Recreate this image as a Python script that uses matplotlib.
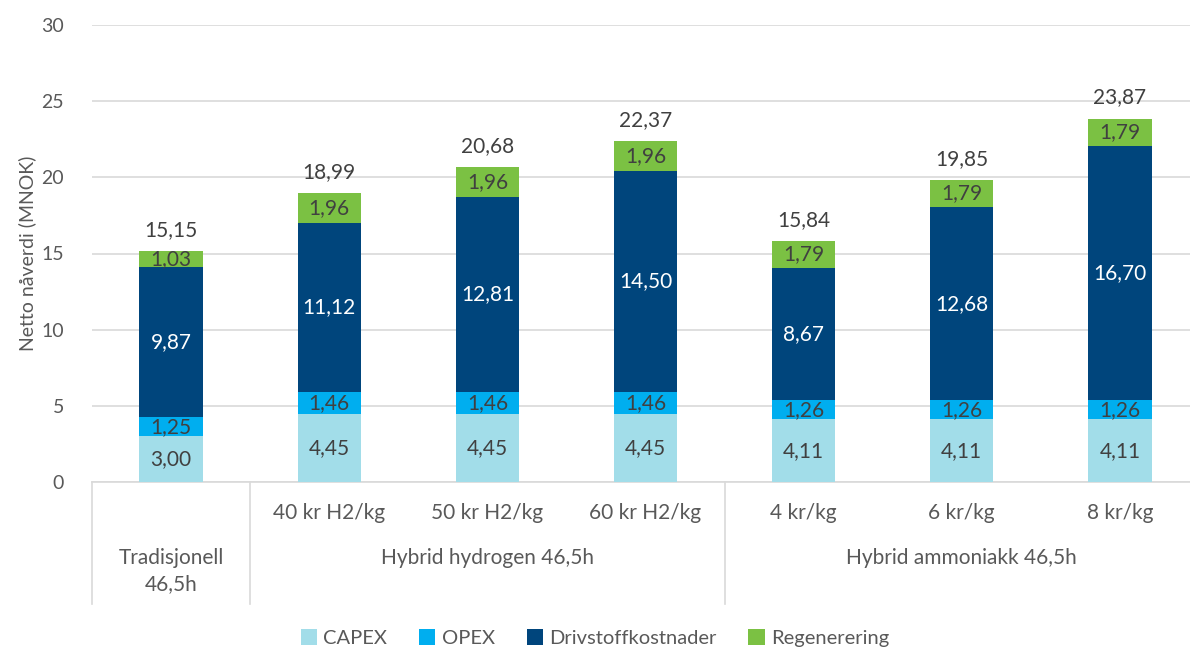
import matplotlib.pyplot as plt
import matplotlib.transforms as mtransforms
import numpy as np

plt.rcParams['font.family'] = ['Lato', 'DejaVu Sans']

# data
sub_labels = ['', '40 kr H2/kg', '50 kr H2/kg', '60 kr H2/kg', '4 kr/kg', '6 kr/kg', '8 kr/kg']
groups = ['Tradisjonell\n46,5h', 'Hybrid hydrogen 46,5h', 'Hybrid ammoniakk 46,5h']
group_members = [[0], [1, 2, 3], [4, 5, 6]]
capex = [3.00, 4.45, 4.45, 4.45, 4.11, 4.11, 4.11]
opex = [1.25, 1.46, 1.46, 1.46, 1.26, 1.26, 1.26]
drivstoff = [9.87, 11.12, 12.81, 14.50, 8.67, 12.68, 16.70]
regen = [1.03, 1.96, 1.96, 1.96, 1.79, 1.79, 1.79]
totals = [15.15, 18.99, 20.68, 22.37, 15.84, 19.85, 23.87]
series_names = ['CAPEX', 'OPEX', 'Drivstoffkostnader', 'Regenerering']
colors = ['#A2DDE9', '#00AEEF', '#00457C', '#7BC143']
text_colors = ['#404040', '#404040', 'white', '#404040']

txt = '#595959'
fig = plt.figure(figsize=(11.9, 6.49), dpi=100)
ax = fig.add_axes([92/1190, 1 - 482/649, (1199 - 92)/1190, (482 - 25)/649])

x = np.arange(len(capex))
bottom = np.zeros(len(x))
for vals, name, c, tc in zip([capex, opex, drivstoff, regen], series_names, colors, text_colors):
    vals = np.array(vals)
    ax.bar(x, vals, 0.40, bottom=bottom, color=c, label=name, zorder=3)
    for xi, b, v in zip(x, bottom, vals):
        ax.text(xi, b + v / 2, f'{v:.2f}'.replace('.', ','), ha='center', va='center',
                color=tc, fontsize=15, zorder=4)
    bottom += vals

for xi, t, tot in zip(x, bottom, totals):
    ax.annotate(f'{tot:.2f}'.replace('.', ','), (xi, t), xytext=(0, 8), textcoords='offset points',
                ha='center', va='bottom', color='#404040', fontsize=15)

ax.set_xlim(-0.5, len(x) - 0.5)
ax.set_ylim(0, 30)
ax.set_yticks(range(0, 31, 5))
ax.tick_params(axis='y', length=0, labelsize=14, labelcolor=txt, pad=20)
ax.grid(axis='y', color='#D9D9D9', linewidth=1.2, zorder=0)
for s in ['top', 'right', 'left']:
    ax.spines[s].set_visible(False)
ax.spines['bottom'].set_color('#D9D9D9')
ax.spines['bottom'].set_linewidth(1.2)
ax.set_xticks([])
ax.set_ylabel('Netto nåverdi (MNOK)', fontsize=14, color=txt)
ax.yaxis.set_label_coords(-56 / 1107, 0.5)

# multi-level category axis
trans = mtransforms.blended_transform_factory(ax.transData, ax.transAxes)
px = 1 / 457
for xi, lab in zip(x, sub_labels):
    ax.text(xi, -31 * px, lab, transform=trans, ha='center', va='center', fontsize=15, color=txt)
for g, members in zip(groups, group_members):
    mid = members[len(members) // 2]
    ax.text(mid, -66 * px, g, transform=trans, ha='center', va='top', fontsize=15,
            color=txt, linespacing=1.35)
for xb in [-0.5, 0.5, 3.5]:
    ax.plot([xb, xb], [0, -122 * px], transform=trans, color='#D9D9D9', lw=1.2, clip_on=False)

fig.legend(loc='center', bbox_to_anchor=(0.5, 1 - 638/649), ncol=4, frameon=False,
           fontsize=14.5, handlelength=0.8, handleheight=0.8, handletextpad=0.3,
           columnspacing=1.6, labelcolor=txt)

fig.savefig('out.png', dpi=100)
